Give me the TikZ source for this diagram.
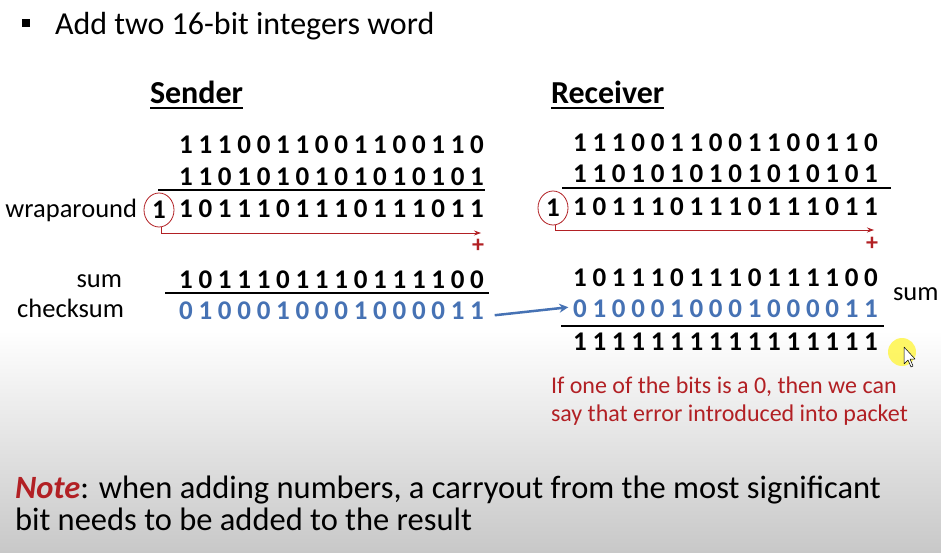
\documentclass[tikz,border=0pt]{standalone}
\usepackage{fontspec}
\setmainfont{Carlito}
\usetikzlibrary{shapes.geometric,arrows.meta}
\definecolor{dred}{RGB}{178,32,36}
\definecolor{cblue}{RGB}{70,114,180}
\definecolor{bgray}{RGB}{200,200,200}
\newcommand\bitrow[1]{\bitloop#1\relax}
\def\bitloop#1{\ifx#1\relax\else\makebox[19.4pt]{#1}\expandafter\bitloop\fi}
\begin{document}
\begin{tikzpicture}[x=1pt,y=-1pt,
  every node/.style={inner sep=0pt,outer sep=0pt},
  bits/.style={anchor=base west,font=\fontsize{27}{27}\selectfont\bfseries},
  lbl/.style={anchor=base east,font=\fontsize{26.5}{26.5}\selectfont},
  head/.style={anchor=base west,font=\fontsize{32}{32}\selectfont\bfseries},
  rule/.style={line width=1.5pt},
  carry/.style={draw=dred,ellipse,line width=0.8pt,minimum width=30pt,minimum height=34pt,font=\fontsize{27}{27}\selectfont\bfseries},
  wrap/.style={draw=dred,line width=0.8pt,-{Stealth[length=7pt,width=5pt]}},
  plus/.style={text=dred,font=\fontsize{24}{24}\selectfont\bfseries},
  redtxt/.style={anchor=base west,text=dred,font=\fontsize{24}{24}\selectfont},
  note/.style={anchor=base west,font=\fontsize{32.5}{32.5}\selectfont}]
\useasboundingbox (0,0) rectangle (941,553);
\fill[white] (0,0) rectangle (941,553);
\shade[top color=white,bottom color=bgray] (0,330) rectangle (941,553);
% title
\fill (22,19) rectangle (30,27);
\node[anchor=base west,font=\fontsize{32}{32}\selectfont] (title) at (55,35) {Add two 16-bit integers word};
% headings
\node[head] (snd) at (150,104) {Sender};
\draw[line width=2pt] (snd.base west) ++(0,4) coordinate (su1) -- (su1 -| snd.east);
\node[head] (rcv) at (551,104) {Receiver};
\draw[line width=2pt] (rcv.base west) ++(0,4) coordinate (ru1) -- (ru1 -| rcv.east);
% sender
\node[bits] (s1) at (176.3,154) {\bitrow{1110011001100110}};
\node[bits] (s2) at (176.3,186) {\bitrow{1101010101010101}};
\draw[rule] (158,190) -- (485,190);
\node[bits] (s3) at (176.3,218) {\bitrow{1011101110111011}};
\node[carry] (c1) at (159,210) {1};
\node[lbl] (wl) at (137,218) {wraparound};
\coordinate (t1) at (481,233);
\draw[wrap] ([xshift=2pt]c1.south) |- (t1);
\node[plus] (p1) at (478,246) {+};
\node[lbl] (sl) at (122,287) {sum};
\node[bits] (ss) at (176.3,288) {\bitrow{1011101110111100}};
\draw[rule] (165,293) -- (489,293);
\node[lbl] (cl) at (124,317) {checksum};
\node[bits,text=cblue] (sc) at (176.3,319) {\bitrow{0100010001000011}};
% receiver
\node[bits] (r1) at (570.3,152) {\bitrow{1110011001100110}};
\node[bits] (r2) at (570.3,183) {\bitrow{1101010101010101}};
\draw[rule] (562,188) -- (891,188);
\node[bits] (r3) at (570.3,215) {\bitrow{1011101110111011}};
\node[carry] (c2) at (553,208) {1};
\coordinate (t2) at (874,230);
\draw[wrap] ([xshift=2pt]c2.south) |- (t2);
\node[plus] (p2) at (872,244) {+};
\node[bits] (rs) at (570.3,286) {\bitrow{1011101110111100}};
\node[bits,text=cblue] (rc) at (570.3,317) {\bitrow{0100010001000011}};
\node[anchor=base west,font=\fontsize{26.5}{26.5}\selectfont] (rsl) at (893,300) {sum};
\draw[rule] (561,326) -- (884,326);
\node[bits] (ro) at (570.3,350) {\bitrow{1111111111111111}};
% transfer arrow
\draw[cblue,line width=2.5pt,-{Stealth[length=9pt,width=9pt]}] ([xshift=8pt,yshift=-5pt]sc.east) -- ([xshift=-2pt,yshift=1pt]rc.west);
% red remark
\node[redtxt] (e1) at (551,393) {If one of the bits is a 0, then we can};
\node[redtxt] (e2) at (551,421) {say that error introduced into packet};
% note
\node[note] (n1) at (15,498) {\textcolor{dred}{\textbf{\textit{Note}}}: when adding numbers, a carryout from the most significant};
\node[note] (n2) at (15,530) {bit needs to be added to the result};
% pointer highlight
\fill[yellow!75!white,opacity=0.8] (902,352) circle (14);
\draw[fill=white,line width=0.5pt,line join=round] (904,347) -- (904,364) -- (908,360) -- (911,367) -- (913,366) -- (910,359) -- (915,359) -- cycle;
\end{tikzpicture}
\end{document}
